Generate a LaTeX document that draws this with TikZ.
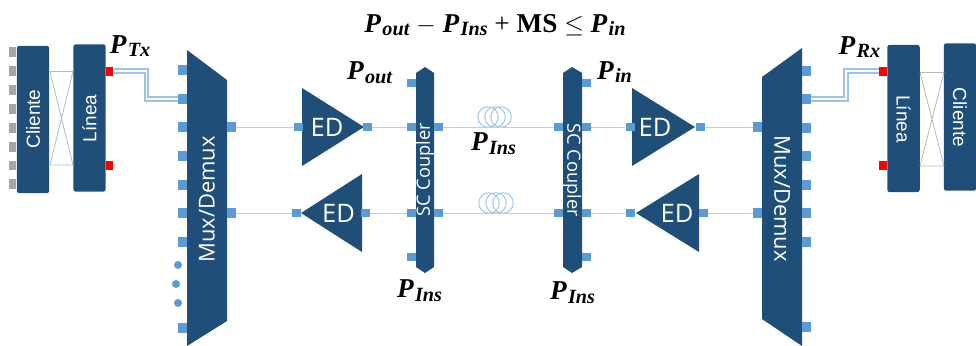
\documentclass[tikz,border=0pt]{standalone}
\usepackage{fontspec}
\setmainfont{Liberation Serif}
\newfontfamily\edfont{Open Sans}
\newfontfamily\arialfont{Liberation Sans}
\usetikzlibrary{arrows,shapes,backgrounds}
\definecolor{boxblue}{HTML}{1F4E79}
\definecolor{portblue}{HTML}{5B9BD5}
\definecolor{lineblue}{HTML}{9DC3E6}
\definecolor{portgrey}{HTML}{A6A6A6}
\newcommand{\powerlab}[1]{\textbf{\textit{P\kern0.05em\raisebox{-0.3ex}{\fontsize{11.5}{13}\selectfont #1}}}}

\begin{document}
\begin{tikzpicture}[x=0.02cm,y=-0.02cm,
	card/.style={fill=boxblue, rounded corners=1.5pt, minimum width=0.65cm, minimum height=2.95cm, inner sep=0, text=white},
	cardtext/.style={text=white, font=\arialfont\fontsize{10.8}{12}\selectfont, inner sep=0},
	blocktext/.style={text=white, font=\edfont\fontsize{12.5}{14}\selectfont, inner sep=0},
	edtext/.style={text=white, font=\edfont\fontsize{14.5}{16}\selectfont, inner sep=0},
	couplertext/.style={text=white, font=\edfont\fontsize{10.4}{12}\selectfont, inner sep=0},
	port/.style={fill=portblue, minimum width=0.18cm, minimum height=0.17cm, inner sep=0},
	muxport/.style={fill=portblue, minimum width=0.18cm, minimum height=0.2cm, inner sep=0},
	greyport/.style={fill=portgrey, minimum width=0.14cm, minimum height=0.19cm, inner sep=0},
	redport/.style={fill=red, minimum width=0.15cm, minimum height=0.18cm, inner sep=0},
	dotport/.style={fill=portblue, circle, minimum size=0.16cm, inner sep=0},
	coil/.style={draw=lineblue, circle, line width=0.55pt, minimum size=0.41cm, inner sep=0},
	thinlink/.style={draw=lineblue!75, line width=0.5pt},
	fibrepair/.style={draw=lineblue, line width=1pt, double=white, double distance=1pt},
	crossing/.style={draw=portgrey!80, line width=0.45pt},
	powertext/.style={inner sep=0, font=\fontsize{15.5}{17}\selectfont}]
	\useasboundingbox (0,0) rectangle (976,345);

	% left client
	\node [card] (cl) at (33,119.5) {};
	\node [card] (ll) at (89.5,118) {};
	\node [cardtext, rotate=90] (clt) at (33,119) {Cliente};
	\node [cardtext, rotate=90] (llt) at (89.5,118.5) {Línea};
	\node [greyport] (g1) at (12.5,52) {};
	\node [greyport] (g2) at (12.5,71) {};
	\node [greyport] (g3) at (12.5,90) {};
	\node [greyport] (g4) at (12.5,109) {};
	\node [greyport] (g5) at (12.5,128) {};
	\node [greyport] (g6) at (12.5,147) {};
	\node [greyport] (g7) at (12.5,165.5) {};
	\node [greyport] (g8) at (12.5,184) {};
	\node [redport] (rl1) at (109.5,71) {};
	\node [redport] (rl2) at (109.5,165.5) {};
	\coordinate (xa) at (50,71.5);
	\coordinate (xb) at (73,71.5);
	\coordinate (xc) at (50,165);
	\coordinate (xd) at (73,165);
	\draw [crossing] (xa) -- (xb) (xc) -- (xd) (xa) -- (xd) (xb) -- (xc);

	% left mux
	\fill [boxblue] (187,50) -- (227,80) -- (227,321) -- (187,346) -- cycle;
	\node [blocktext, rotate=90] (mlt) at (207,199.5) {Mux/Demux};
	\node [muxport] (ml1) at (182.5,70) {};
	\node [muxport] (ml2) at (182.5,99) {};
	\node [muxport] (ml3) at (182.5,127) {};
	\node [muxport] (ml4) at (182.5,155.5) {};
	\node [muxport] (ml5) at (182.5,184.5) {};
	\node [muxport] (ml6) at (182.5,213) {};
	\node [muxport] (ml7) at (182.5,241.5) {};
	\node [muxport] (ml8) at (182.5,328) {};
	\node [dotport] (d1) at (178,265) {};
	\node [dotport] (d2) at (176,284) {};
	\node [dotport] (d3) at (178,303) {};
	\node [muxport] (mr1) at (231,127) {};
	\node [muxport] (mr2) at (231,213) {};
	\coordinate (bl) at (146.5,85);
	\draw [fibrepair] (rl1) -| (bl) |- (ml2);

	% amplifiers
	\fill [boxblue] (302,88) -- (364,127) -- (302,166) -- cycle;
	\node [edtext] (e1) at (327,127) {ED};
	\node [port] (e1l) at (298,127) {};
	\node [port] (e1r) at (367.5,127) {};
	\fill [boxblue] (301,213) -- (362,174) -- (362,252) -- cycle;
	\node [edtext] (e2) at (338.5,213) {ED};
	\node [port] (e2l) at (296.5,213) {};
	\node [port] (e2r) at (365.5,213) {};
	\fill [boxblue] (632,88) -- (695,127) -- (632,166) -- cycle;
	\node [edtext] (e3) at (655,127) {ED};
	\node [port] (e3l) at (630,127) {};
	\node [port] (e3r) at (700.5,127) {};
	\fill [boxblue] (636,213) -- (699,174) -- (699,252) -- cycle;
	\node [edtext] (e4) at (677,213) {ED};
	\node [port] (e4l) at (630,213) {};
	\node [port] (e4r) at (703,213) {};

	% couplers
	\fill [boxblue] (425,67) -- (434,73) -- (434,267) -- (425,273) -- (416,267) -- (416,73) -- cycle;
	\node [couplertext, rotate=90] (s1) at (425,170) {SC Coupler};
	\node [port] (s1a) at (411.5,83) {};
	\node [port] (s1b) at (411.5,127) {};
	\node [port] (s1c) at (411.5,213) {};
	\node [port] (s1d) at (411.5,257) {};
	\node [port] (s1e) at (438,127) {};
	\node [port] (s1f) at (438,213) {};
	\fill [boxblue] (572,67) -- (582,73) -- (582,267) -- (572,273) -- (563,267) -- (563,73) -- cycle;
	\node [couplertext, rotate=-90] (s2) at (572,170) {SC Coupler};
	\node [port] (s2a) at (558.5,127) {};
	\node [port] (s2b) at (558.5,213) {};
	\node [port] (s2c) at (586,83) {};
	\node [port] (s2d) at (586,127) {};
	\node [port] (s2e) at (586,213) {};
	\node [port] (s2f) at (586,257) {};

	% fibre coils
	\node [coil] (c1) at (488,117) {};
	\node [coil] (c2) at (495,117) {};
	\node [coil] (c3) at (501,117) {};
	\node [coil] (c4) at (489,203) {};
	\node [coil] (c5) at (496,203) {};
	\node [coil] (c6) at (503,203) {};

	% right mux
	\fill [boxblue] (802,48) -- (762,77) -- (762,319) -- (802,346) -- cycle;
	\node [blocktext, rotate=-90] (mrt) at (782,198.5) {Mux/Demux};
	\node [muxport] (nl1) at (757.5,127) {};
	\node [muxport] (nl2) at (757.5,213) {};
	\node [muxport] (nr1) at (806.5,71) {};
	\node [muxport] (nr2) at (806.5,99) {};
	\node [muxport] (nr3) at (806.5,128) {};
	\node [muxport] (nr4) at (806.5,156) {};
	\node [muxport] (nr5) at (806.5,184.5) {};
	\node [muxport] (nr6) at (806.5,213) {};
	\node [muxport] (nr7) at (806.5,242) {};
	\node [muxport] (nr8) at (806.5,327) {};

	% right client
	\node [card] (lr) at (903.5,118.5) {};
	\node [card] (cr) at (960,117) {};
	\node [cardtext, rotate=-90] (lrt) at (903.5,119) {Línea};
	\node [cardtext, rotate=-90] (crt) at (960,117.5) {Cliente};
	\node [redport] (rr1) at (883,71) {};
	\node [redport] (rr2) at (883,165.5) {};
	\coordinate (ya) at (920,72.5);
	\coordinate (yb) at (944,72.5);
	\coordinate (yc) at (920,166);
	\coordinate (yd) at (944,166);
	\draw [crossing] (ya) -- (yb) (yc) -- (yd) (ya) -- (yd) (yb) -- (yc);
	\coordinate (br) at (846,85);
	\draw [fibrepair] (rr1) -| (br) |- (nr2);

	% links
	\draw [thinlink] (mr1) -- (e1l);
	\draw [thinlink] (e1r) -- (s1b);
	\draw [thinlink] (s1e) -- (s2a);
	\draw [thinlink] (s2d) -- (e3l);
	\draw [thinlink] (e3r) -- (nl1);
	\draw [thinlink] (mr2) -- (e2l);
	\draw [thinlink] (e2r) -- (s1c);
	\draw [thinlink] (s1f) -- (s2b);
	\draw [thinlink] (s2e) -- (e4l);
	\draw [thinlink] (e4r) -- (nl2);

	% power labels
	\node [powertext] (eq) at (495,25) {\powerlab{out} $-$ \powerlab{Ins} + \textbf{MS} $\leq$ \powerlab{in}};
	\node [powertext] (ptx) at (130,46) {\powerlab{Tx}};
	\node [powertext] (prx) at (859.5,47) {\powerlab{Rx}};
	\node [powertext] (pout) at (369.5,73) {\powerlab{out}};
	\node [powertext] (pin) at (614.5,72) {\powerlab{in}};
	\node [powertext] (pi1) at (493.5,144) {\powerlab{Ins}};
	\node [powertext] (pi2) at (419.5,291) {\powerlab{Ins}};
	\node [powertext] (pi3) at (572.5,293) {\powerlab{Ins}};
\end{tikzpicture}
\end{document}
